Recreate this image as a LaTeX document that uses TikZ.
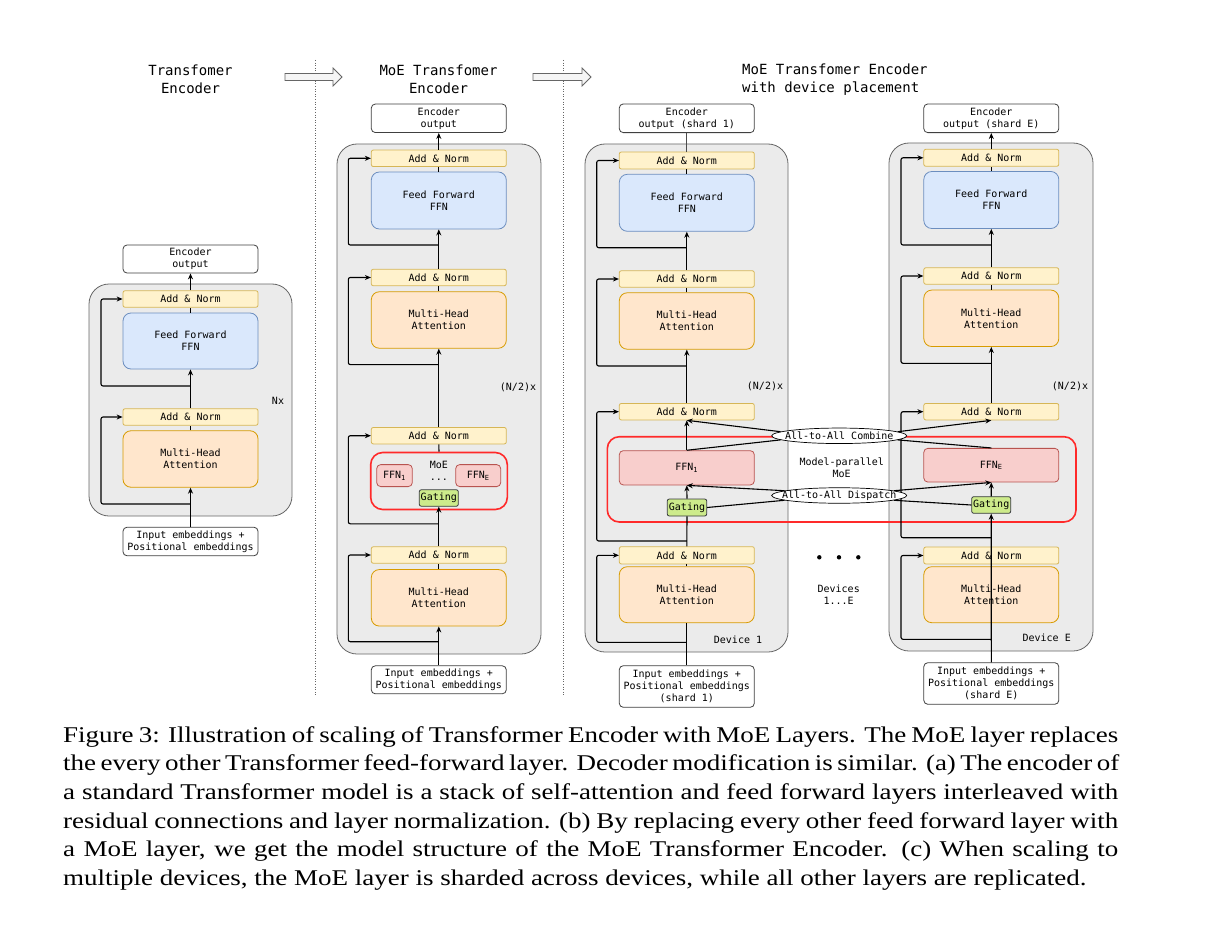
\documentclass[tikz,border=0pt]{standalone}
\usepackage{fontspec}
\setmainfont{Liberation Serif}
\newfontfamily\capfont[FakeStretch=1.2]{Liberation Serif}
\newfontfamily\diafont{DejaVu Sans Mono}
\usetikzlibrary{arrows.meta,shapes.geometric}
\definecolor{cANf}{HTML}{FFF2CC}\definecolor{cANd}{HTML}{D6B656}
\definecolor{cFFf}{HTML}{DAE8FC}\definecolor{cFFd}{HTML}{6C8EBF}
\definecolor{cMHf}{HTML}{FFE6CC}\definecolor{cMHd}{HTML}{D79B00}
\definecolor{cEXf}{HTML}{F8CECC}\definecolor{cEXd}{HTML}{B85450}
\definecolor{cGAf}{HTML}{CDEB8B}\definecolor{cGAd}{HTML}{36393D}
\definecolor{cCOf}{HTML}{EBEBEB}\definecolor{cCOd}{HTML}{666666}
\definecolor{cRED}{HTML}{FF2A2A}
\definecolor{cBAf}{HTML}{F5F5F5}
\newcommand\dia{\diafont\fontsize{10}{12}\selectfont}
\newcommand\ttl{\diafont\fontsize{14}{17.5}\selectfont}
\newcommand\capline[1]{\makebox[1055pt][s]{#1}}
\begin{document}
\begin{tikzpicture}[x=1pt,y=-1pt,
  every node/.style={font=\dia},
  base/.style={inner sep=0pt, align=center, line width=0.8pt},
  an/.style={base, draw=cANd, fill=cANf, rounded corners=2pt, minimum width=135pt, minimum height=16.5pt},
  ffn/.style={base, draw=cFFd, fill=cFFf, rounded corners=8pt, minimum width=135pt, minimum height=57pt},
  mha/.style={base, draw=cMHd, fill=cMHf, rounded corners=8pt, minimum width=135pt, minimum height=56.5pt},
  expert/.style={base, draw=cEXd, fill=cEXf, rounded corners=4pt},
  gate/.style={base, draw=cGAd, fill=cGAf, rounded corners=2pt, minimum width=39pt, minimum height=16.5pt},
  io/.style={base, draw=black!75, fill=white, rounded corners=4pt, minimum width=135pt},
  cont/.style={draw=cCOd, fill=cCOf, line width=0.8pt, rounded corners=20pt},
  moeframe/.style={draw=cRED, line width=1.6pt, rounded corners=12pt},
  ell/.style={ellipse, draw=black, fill=white, line width=0.7pt, inner xsep=-14pt, inner ysep=-1pt, minimum width=135pt, minimum height=15.5pt},
  ttlnode/.style={font=\ttl, align=center, inner sep=0pt},
  lbl/.style={inner sep=0pt, align=center},
  ln/.style={line width=1.1pt, rounded corners=2pt},
  arr/.style={ln, -{Stealth[length=6pt,width=5pt]}},
  barrow/.style={draw=cCOd, fill=cBAf, line width=0.8pt},
  sep/.style={draw=black!60, line width=0.6pt, dotted}
]
\useasboundingbox[fill=white] (0,0) rectangle (1220,936);

% separators and block arrows
\draw[sep] (315,60) -- (315,695);
\draw[sep] (563,60) -- (563,695);
\draw[barrow] (285,73.5) -- (333,73.5) -- (333,68) -- (342,77) -- (333,86) -- (333,80.5) -- (285,80.5) -- cycle;
\draw[barrow] (533,73.5) -- (582,73.5) -- (582,68) -- (591,77) -- (582,86) -- (582,80.5) -- (533,80.5) -- cycle;

% titles
\node[ttlnode] (t1) at (190.5,79.5) {Transfomer\\Encoder};
\node[ttlnode] (t2) at (438.5,79.5) {MoE Transfomer\\Encoder};
\node[ttlnode, align=left, anchor=west] (t3) at (742,79.5) {MoE Transfomer Encoder\\with device placement};

% containers
\draw[cont] (89,284) rectangle (292,516);
\draw[cont] (337,144) rectangle (541,654);
\draw[cont] (585,144) rectangle (788,652);
\draw[cont] (889,143) rectangle (1093,651);

% ---------------- column 1 ----------------
\node[io, minimum height=28pt] (out1) at (190.5,259) {Encoder\\output};
\node[an] (an1a) at (190.5,299) {Add \& Norm};
\node[ffn, minimum height=56pt] (ffn1) at (190.5,341) {Feed Forward\\FFN};
\node[an] (an1b) at (190.5,417) {Add \& Norm};
\node[mha] (mha1) at (190.5,459) {Multi-Head\\Attention};
\node[io, minimum height=28.5pt] (in1) at (190.5,541.5) {Input embeddings +\\Positional embeddings};
\node[lbl] (nx) at (278,401) {Nx};
\draw[arr] (in1.north) -- (mha1.south);
\draw[ln] (mha1.north) -- (an1b.south);
\draw[arr] (an1b.north) -- (ffn1.south);
\draw[ln] (ffn1.north) -- (an1a.south);
\draw[arr] (an1a.north) -- (out1.south);
\coordinate (s1b) at (190.5,504);
\coordinate (s1a) at (190.5,386);
\draw[arr] (s1b) -- (101,504) |- (an1b.west);
\draw[arr] (s1a) -- (101,386) |- (an1a.west);

% ---------------- column 2 ----------------
\node[io, minimum height=28.5pt] (out2) at (438.8,118.3) {Encoder\\output};
\node[an] (an2a) at (438.8,158.3) {Add \& Norm};
\node[ffn] (ffn2) at (438.8,200.5) {Feed Forward\\FFN};
\node[an] (an2b) at (438.8,277.5) {Add \& Norm};
\node[mha] (mha2a) at (438.8,320) {Multi-Head\\Attention};
\node[lbl] (n2) at (518,387.5) {(N/2)x};
\node[an] (an2c) at (438.8,435.7) {Add \& Norm};
\node[base, moeframe, minimum width=136.6pt, minimum height=57pt] (moe2) at (439,481) {};
\node[expert, minimum width=35.6pt, minimum height=22pt] (e2a) at (394.5,475.6) {FFN\textsubscript{1}};
\node[expert, minimum width=45pt, minimum height=22pt] (e2b) at (478.2,475.6) {FFN\textsubscript{E}};
\node[lbl] (moel) at (438.8,464.6) {MoE};
\node[lbl] (dots2) at (438.8,480) {...};
\node[gate] (gat2) at (438.8,498) {Gating};
\node[an] (an2d) at (438.8,555) {Add \& Norm};
\node[mha] (mha2b) at (438.8,597.8) {Multi-Head\\Attention};
\node[io, minimum height=28pt] (in2) at (438.8,679.8) {Input embeddings +\\Positional embeddings};
\draw[arr] (in2.north) -- (mha2b.south);
\draw[ln] (mha2b.north) -- (an2d.south);
\draw[arr] (an2d.north) -- (gat2.south);
\draw[ln] (moe2.north) -- (an2c.south);
\draw[arr] (an2c.north) -- (mha2a.south);
\draw[ln] (mha2a.north) -- (an2b.south);
\draw[arr] (an2b.north) -- (ffn2.south);
\draw[ln] (ffn2.north) -- (an2a.south);
\draw[arr] (an2a.north) -- (out2.south);
\coordinate (s2d) at (438.8,641.7);
\coordinate (s2c) at (438.8,523.8);
\coordinate (s2b) at (438.8,364.6);
\coordinate (s2a) at (438.8,245);
\draw[arr] (s2d) -- (348.3,641.7) |- (an2d.west);
\draw[arr] (s2c) -- (348.3,523.8) |- (an2c.west);
\draw[arr] (s2b) -- (348.3,364.6) |- (an2b.west);
\draw[arr] (s2a) -- (348.3,245) |- (an2a.west);

% ---------------- column 3: devices ----------------
\draw[moeframe] (607.3,436.7) rectangle (1076,522);

% device 1
\node[io, minimum height=28.7pt] (out3) at (686.8,118.3) {Encoder\\output (shard 1)};
\node[an, minimum height=17pt] (an3a) at (686.8,160.5) {Add \& Norm};
\node[ffn] (ffn3) at (686.8,202.8) {Feed Forward\\FFN};
\node[an] (an3b) at (686.8,279) {Add \& Norm};
\node[mha] (mha3a) at (686.8,321) {Multi-Head\\Attention};
\node[lbl] (n3) at (765,386) {(N/2)x};
\node[an] (an3c) at (686.8,411.7) {Add \& Norm};
\node[expert, minimum width=135pt, minimum height=34.3pt] (f3) at (686.8,467.8) {FFN\textsubscript{1}};
\node[gate, minimum width=39.4pt, minimum height=17pt] (gat3) at (687,507.5) {Gating};
\node[an, minimum height=17.3pt] (an3d) at (686.8,555.3) {Add \& Norm};
\node[mha, minimum height=56pt] (mha3b) at (686.8,594.7) {Multi-Head\\Attention};
\node[lbl] (dev1) at (738,640) {Device 1};
\node[io, minimum height=41.6pt] (in3) at (686.8,686.5) {Input embeddings +\\Positional embeddings\\(shard 1)};

% device E
\node[io, minimum height=28.7pt] (out4) at (991.3,118.3) {Encoder\\output (shard E)};
\node[an, minimum height=17pt] (an4a) at (991.3,157.8) {Add \& Norm};
\node[ffn] (ffn4) at (991.3,200) {Feed Forward\\FFN};
\node[an] (an4b) at (991.3,276) {Add \& Norm};
\node[mha] (mha4a) at (991.3,318.3) {Multi-Head\\Attention};
\node[lbl] (n4) at (1070,386) {(N/2)x};
\node[an] (an4c) at (991.3,411.7) {Add \& Norm};
\node[expert, minimum width=135pt, minimum height=33.7pt] (f4) at (991.3,465.2) {FFN\textsubscript{E}};
\node[gate, minimum height=16.6pt] (gat4) at (991.2,505) {Gating};
\node[an, minimum height=17pt] (an4d) at (991.3,555.5) {Add \& Norm};
\node[mha, minimum height=56pt] (mha4b) at (991.3,594.7) {Multi-Head\\Attention};
\node[lbl] (devE) at (1046.7,637.3) {Device E};
\node[io, minimum height=41.6pt] (in4) at (991.3,683.5) {Input embeddings +\\Positional embeddings\\(shard E)};

% middle labels
\node[lbl] (mpm) at (841.7,467.5) {Model-parallel\\MoE};
\node[lbl] (devs) at (838.7,595) {Devices\\1...E};
\fill (819.3,557.3) circle (2.2pt);
\fill (839,557.3) circle (2.2pt);
\fill (858.3,557.3) circle (2.2pt);

% device 1 connectors
\draw[arr] (an3c.north) -- (mha3a.south);
\draw[ln] (mha3a.north) -- (an3b.south);
\draw[arr] (an3b.north) -- (ffn3.south);
\draw[ln] (ffn3.north) -- (an3a.south);
\draw[ln, line width=0.7pt, black!70] (an3a.north) -- (out3.south);
\draw[ln] (in3.north) -- (mha3b.south);
\draw[ln] (mha3b.north) -- (an3d.south);
\draw[ln] (an3d.north) -- (gat3.south);
\draw[arr] (gat3.north) -- (f3.south);
\draw[arr] (f3.north) -- (an3c.south);
\coordinate (s3d) at (686.8,642.3);
\coordinate (s3c) at (686.8,541);
\coordinate (s3b) at (686.8,366);
\coordinate (s3a) at (686.8,247.7);
\draw[arr] (s3d) -- (596.7,642.3) |- (an3d.west);
\draw[arr] (s3c) -- (596.7,541) |- (an3c.west);
\draw[arr] (s3b) -- (596.7,366) |- (an3b.west);
\draw[arr] (s3a) -- (596.7,247.7) |- (an3a.west);

% device E connectors
\draw[arr] (an4c.north) -- (mha4a.south);
\draw[ln] (mha4a.north) -- (an4b.south);
\draw[arr] (an4b.north) -- (ffn4.south);
\draw[ln] (ffn4.north) -- (an4a.south);
\draw[arr] (an4a.north) -- (out4.south);
\draw[arr] (gat4.north) -- (f4.south);
\coordinate (s4d) at (991.3,639.3);
\coordinate (s4c) at (991.3,537.7);
\coordinate (s4b) at (991.3,363.3);
\coordinate (s4a) at (991.3,245);
\draw[arr] (s4d) -- (901,639.3) |- (an4d.west);
\draw[arr] (s4c) -- (901,537.7) |- (an4c.west);
\draw[arr] (s4b) -- (901,363.3) |- (an4b.west);
\draw[arr] (s4a) -- (901,245) |- (an4a.west);
\draw[arr] (in4.north) -- (gat4.south);

% all-to-all
\node[ell] (comb) at (839.2,435.8) {All-to-All Combine};
\node[ell] (disp) at (839.2,495.5) {All-to-All Dispatch};
\draw[ln] (f3.north) -- (comb.184);
\draw[arr] (comb.176) -- (an3c.south);
\draw[ln] (gat3.east) -- (disp.185);
\draw[arr] (disp.175) -- (f3.south);
\draw[arr] (comb.4) -- (an4c.south);
\draw[ln] (comb.356) -- (f4.north);
\draw[arr] (disp.5) -- (f4.south);
\draw[ln] (disp.355) -- (gat4.west);

% caption
\node[anchor=north west, inner sep=0pt, align=left,
      font=\capfont\fontsize{22.5}{28.7}\selectfont] (cap) at (63,726) {%
\capline{Figure 3: Illustration of scaling of Transformer Encoder with MoE Layers. The MoE layer replaces}\\
\capline{the every other Transformer feed-forward layer. Decoder modification is similar. (a) The encoder of}\\
\capline{a standard Transformer model is a stack of self-attention and feed forward layers interleaved with}\\
\capline{residual connections and layer normalization. (b) By replacing every other feed forward layer with}\\
\capline{a MoE layer, we get the model structure of the MoE Transformer Encoder. (c) When scaling to}\\
multiple devices, the MoE layer is sharded across devices, while all other layers are replicated.};
\end{tikzpicture}
\end{document}
